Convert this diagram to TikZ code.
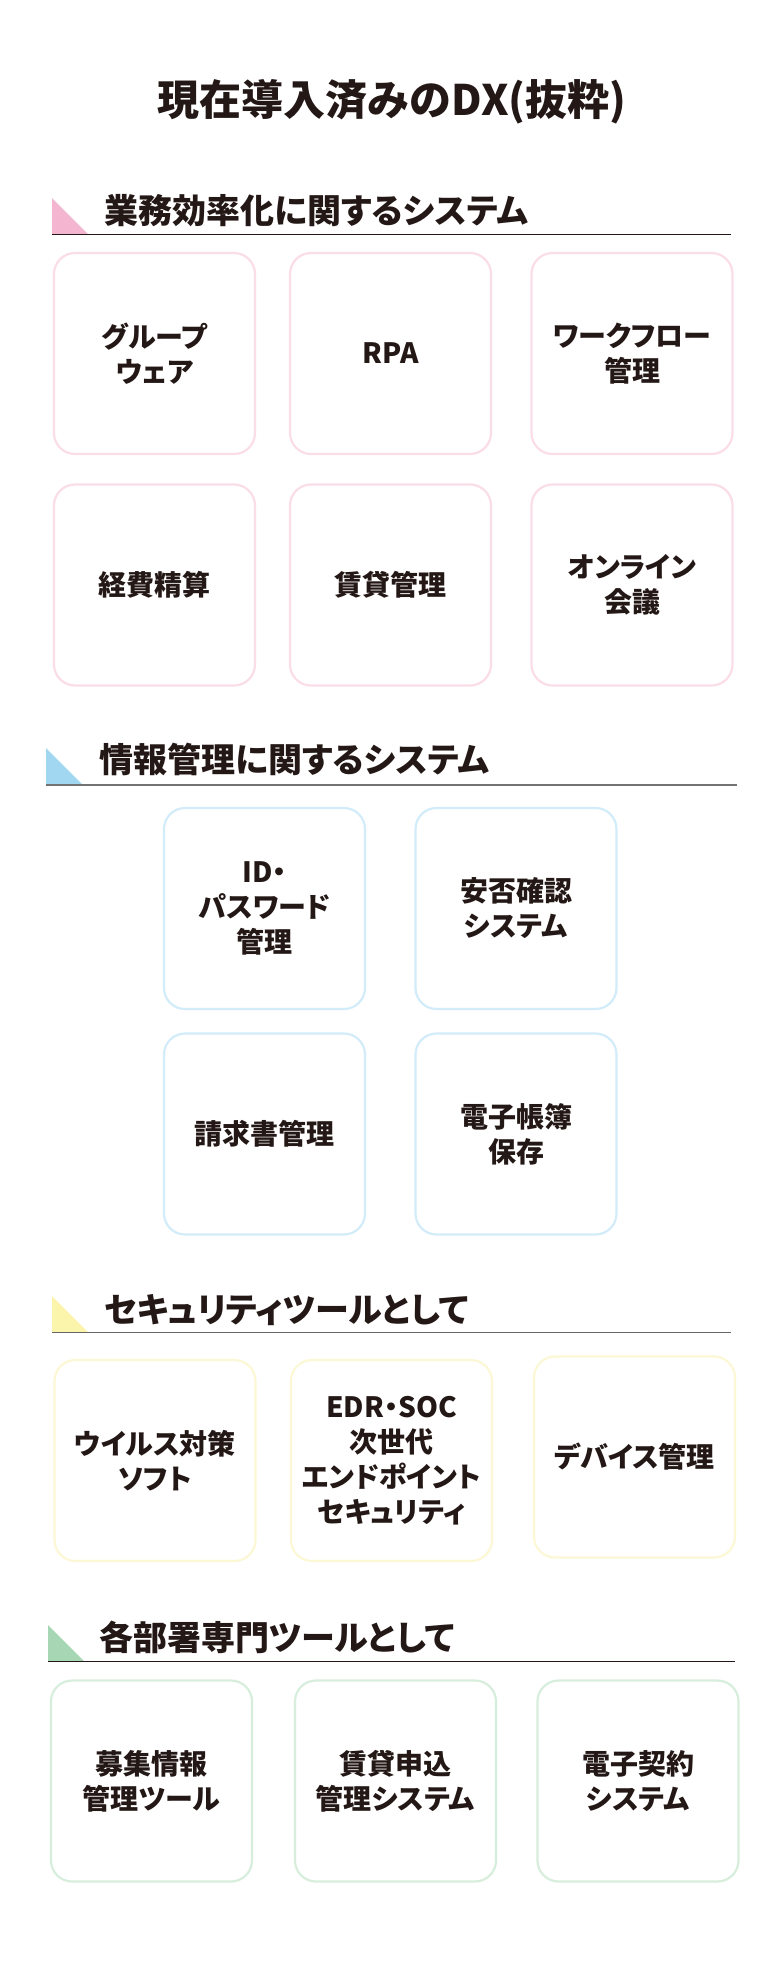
\documentclass[tikz,border=0pt]{standalone}
\usepackage{fontspec}
\newfontfamily\jp{Noto Sans CJK JP}
\newfontfamily\jpp[RawFeature=+palt]{Noto Sans CJK JP}
\definecolor{inkc}{HTML}{231815}
\definecolor{pinkT}{HTML}{F3B5CF}
\definecolor{pinkB}{HTML}{FADDE8}
\definecolor{blueT}{HTML}{A2D7F1}
\definecolor{blueB}{HTML}{D3ECF9}
\definecolor{yelT}{HTML}{FBF4AB}
\definecolor{yelB}{HTML}{FCF8D5}
\definecolor{grnT}{HTML}{A6D6B3}
\definecolor{grnB}{HTML}{D8EEDD}
\begin{document}
\begin{tikzpicture}[x=1pt,y=-1pt,
  card/.style={draw=#1, line width=2.2pt, rounded corners=21pt, minimum width=201pt, minimum height=201pt,
    inner sep=0pt, align=center, text=inkc, font=\jpp\bfseries\fontsize{28}{35}\selectfont, fill=white},
  head/.style={anchor=west, inner sep=0pt, text=inkc, font=\jpp\bfseries\fontsize{34}{40}\selectfont},
  titlestyle/.style={inner sep=0pt, text=inkc, font=\jp\bfseries\fontsize{42}{50}\selectfont},
]
\useasboundingbox[fill=white] (0,0) rectangle (780,1965);

% title
\node[titlestyle] (title) at (392,102) {現在導入済みのDX(抜粋)};

% ---------- section 1
\fill[pinkT] (52,198) -- (52,234) -- (88,234) -- cycle;
\coordinate (l1a) at (52,234.5);
\coordinate (l1b) at (731,234.5);
\draw[inkc, line width=1.3pt] (l1a) -- (l1b);
\node[head] (h1) at (104,211) {業務効率化に関するシステム};

\node[card=pinkB] (c11) at (154.5,353.5) {グループ\\ウェア};
\node[card=pinkB] (c12) at (390.5,353.5) {RPA};
\node[card=pinkB] (c13) at (632,353.5) {ワークフロー\\管理};
\node[card=pinkB] (c14) at (154.5,585) {経費精算};
\node[card=pinkB] (c15) at (390.5,585) {賃貸管理};
\node[card=pinkB] (c16) at (632,585) {オンライン\\会議};

% ---------- section 2
\fill[blueT] (46,748) -- (46,784) -- (82,784) -- cycle;
\coordinate (l2a) at (46,784.5);
\coordinate (l2b) at (737,784.5);
\draw[black!55, line width=2pt] (l2a) -- (l2b);
\node[head] (h2) at (99,759) {情報管理に関するシステム};

\node[card=blueB] (c21) at (264.5,908.5) {ID・\\パスワード\\管理};
\node[card=blueB] (c22) at (516,908.5) {安否確認\\システム};
\node[card=blueB] (c23) at (264.5,1134) {請求書管理};
\node[card=blueB] (c24) at (516,1134) {電子帳簿\\保存};

% ---------- section 3
\fill[yelT] (52,1296) -- (52,1332) -- (88,1332) -- cycle;
\coordinate (l3a) at (52,1332.5);
\coordinate (l3b) at (731,1332.5);
\draw[black!60, line width=1.6pt] (l3a) -- (l3b);
\node[head] (h3) at (104,1310) {セキュリティツールとして};

\node[card=yelB] (c31) at (155,1460.5) {ウイルス対策\\ソフト};
\node[card=yelB] (c32) at (391.5,1460.5) {EDR・SOC\\次世代\\エンドポイント\\セキュリティ};
\node[card=yelB] (c33) at (634.5,1457) {デバイス管理};

% ---------- section 4
\fill[grnT] (48,1625) -- (48,1661) -- (84,1661) -- cycle;
\coordinate (l4a) at (48,1661.5);
\coordinate (l4b) at (735,1661.5);
\draw[inkc, line width=1.3pt] (l4a) -- (l4b);
\node[head] (h4) at (99,1637) {各部署専門ツールとして};

\node[card=grnB] (c41) at (151.5,1781) {募集情報\\管理ツール};
\node[card=grnB] (c42) at (395.5,1781) {賃貸申込\\管理システム};
\node[card=grnB] (c43) at (638,1781) {電子契約\\システム};
\end{tikzpicture}
\end{document}
